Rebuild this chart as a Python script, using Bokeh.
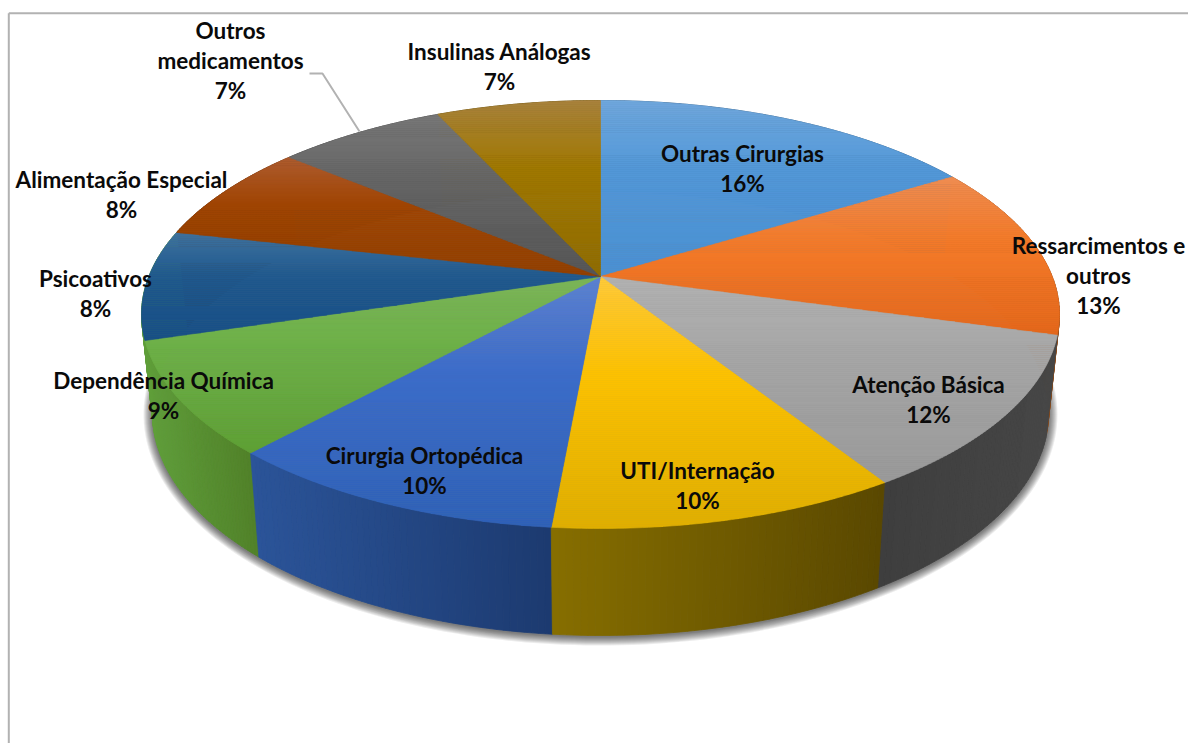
import numpy as np
from bokeh.plotting import figure
from bokeh.models import Range1d
from bokeh.core.properties import value
from bokeh.embed import file_html
from bokeh.resources import INLINE

# ---- data ----
categories = ["Outras Cirurgias", "Ressarcimentos e\noutros", "Atenção Básica", "UTI/Internação",
              "Cirurgia Ortopédica", "Dependência Química", "Psicoativos", "Alimentação Especial",
              "Outros\nmedicamentos", "Insulinas Análogas"]
# slice shares as measured on the picture (they round to the printed percentages)
values = [16.2, 13.15, 11.68, 10.4, 10.32, 8.52, 8.28, 7.53, 7.05, 6.87]

# ---- styles: top face (top, middle, bottom), side (left, right) ----
top_colors = [("#70a8dd", "#5398d8", "#4a90d2"), ("#ef8d52", "#f47b2a", "#e5681c"),
              ("#b2b2b2", "#a6a6a6", "#9a9a9a"), ("#ffca38", "#fdc300", "#e0b000"),
              ("#5c82d2", "#3c6cc8", "#2f62b8"), ("#7cb658", "#6db048", "#5fa035"),
              ("#40739f", "#20598e", "#184f86"), ("#ae5c30", "#a04503", "#913f00"),
              ("#787878", "#666666", "#555555"), ("#a9833e", "#a07800", "#8f6c00")]
side_colors = [("#2f5577", "#2f5577"), ("#9a4e1c", "#8a4a1a"), ("#3e3e3e", "#464646"),
               ("#866e00", "#5a4800"), ("#2b5499", "#1c3a70"), ("#5f9e3a", "#518229"),
               ("#5f9e3a", "#5f9e3a"), ("#5e2b08", "#5e2b08"), ("#3a3a3a", "#3a3a3a"),
               ("#5a4500", "#5a4500")]
# label centres in screen pixels (first line), line step is 30
label_pos = [(742, 153), (1098, 245), (928, 384), (697, 470), (424, 455),
             (163, 380), (95, 278), (121, 179), (230, 30), (499, 51)]

# ---- geometry ----
CX, CY, RX, RY = 600.0, 314.0, 459.0, 214.0      # top ellipse
BX, BY, BRX, BRY = 600.0, 413.0, 448.0, 222.0    # bottom ellipse
APEX = (600.0, 276.0)
a = (APEX[1] - CY) / RY
k = (1 - np.sqrt(1 - a * a)) / a                 # disc-automorphism parameter
P = 1j * k


def proj(frac):
    """fraction of the pie -> unit-circle point after perspective"""
    z = np.exp(1j * (-np.pi / 2 + 2 * np.pi * np.asarray(frac)))
    return (z + P) / (1 + np.conj(P) * z)


def hex2rgb(h):
    return np.array([int(h[i:i + 2], 16) for i in (1, 3, 5)], float)


def mix(c0, c1, t):
    c = hex2rgb(c0) * (1 - t) + hex2rgb(c1) * t
    return "#%02x%02x%02x" % tuple(int(round(v)) for v in c)


def clip(poly, y0, y1):
    def half(pts, keep, cross):
        out = []
        for i in range(len(pts)):
            p, q = pts[i], pts[(i + 1) % len(pts)]
            if keep(p):
                out.append(p)
            if keep(p) != keep(q):
                t = (cross - p[1]) / (q[1] - p[1])
                out.append((p[0] + t * (q[0] - p[0]), cross))
        return out
    res = half(poly, lambda p: p[1] >= y0, y0)
    if res:
        res = half(res, lambda p: p[1] <= y1, y1)
    return res


total = sum(values)
cum = np.concatenate([[0], np.cumsum(values)]) / total

p = figure(width=1188, height=743, x_range=Range1d(0, 1188), y_range=Range1d(743, 0),
           toolbar_location=None, output_backend="svg", min_border=0, outline_line_color=None,
           background_fill_color="white", border_fill_color="white")
p.axis.visible = False
p.grid.visible = False

# frame
p.line([8.3, 8.3], [743, 12.8], line_color="#b2b2b2", line_width=2)
p.line([8.3, 1188], [12.8, 12.8], line_color="#b2b2b2", line_width=2)

# soft shadow under the disc
th = np.linspace(0, 2 * np.pi, 240)
for d in range(9, 0, -1):
    p.patch(BX + (BRX + d) * np.cos(th), BY + 1 + (BRY + d) * np.sin(th),
            fill_color="black", fill_alpha=0.075, line_color=None)

# side wall
quads = []
for i in range(len(values)):
    fr = np.linspace(cum[i], cum[i + 1], 50)
    w = proj(fr)
    xt, yt = CX + RX * w.real, CY + RY * w.imag
    xb, yb = BX + BRX * w.real, BY + BRY * w.imag
    lo, hi = xt.min(), xt.max()
    for j in range(len(fr) - 1):
        t = ((xt[j] + xt[j + 1]) / 2 - lo) / (hi - lo)
        col = mix(side_colors[i][0], side_colors[i][1], t)
        depth = (w[j].imag + w[j + 1].imag) / 2
        quads.append((depth, [xt[j], xt[j + 1], xb[j + 1], xb[j]], [yt[j], yt[j + 1], yb[j + 1], yb[j]], col))
quads.sort(key=lambda q: q[0])
p.patches([q[1] for q in quads], [q[2] for q in quads], fill_color=[q[3] for q in quads],
          line_color=[q[3] for q in quads], line_width=0.8)

# top face, each slice with its own vertical gradient
for i in range(len(values)):
    fr = np.linspace(cum[i], cum[i + 1], 60)
    w = proj(fr)
    poly = [APEX] + list(zip(CX + RX * w.real, CY + RY * w.imag))
    ys_all = [q[1] for q in poly]
    y0, y1 = min(ys_all), max(ys_all)
    edges = np.linspace(y0, y1, int((y1 - y0) / 2) + 2)
    xs, ys, cols = [], [], []
    for e0, e1 in zip(edges[:-1], edges[1:]):
        band = clip(poly, e0, e1)
        if len(band) < 3:
            continue
        t = ((e0 + e1) / 2 - y0) / (y1 - y0)
        c = mix(top_colors[i][0], top_colors[i][1], t / 0.4) if t < 0.4 else mix(top_colors[i][1], top_colors[i][2], (t - 0.4) / 0.6)
        xs.append([q[0] for q in band])
        ys.append([q[1] for q in band])
        cols.append(c)
    p.patches(xs, ys, fill_color=cols, line_color=cols, line_width=0.6)

# leader line
p.line([309, 322, 359], [73, 73, 131], line_color="#b2b2b2", line_width=2)

# labels
tx, ty, tt = [], [], []
for name, v, (lx, ly) in zip(categories, values, label_pos):
    lines = name.split("\n") + [f"{round(v / total * 100)}%"]
    for n, s in enumerate(lines):
        tx.append(lx)
        ty.append(ly + 30 * n)
        tt.append(s)
p.text(tx, ty, text=tt, text_font=value("Lato"), text_font_style="bold", text_font_size="22.5px",
       text_color="#0a0a0a", text_align="center", text_baseline="middle")

open("out.html", "w").write(file_html(p, INLINE))
